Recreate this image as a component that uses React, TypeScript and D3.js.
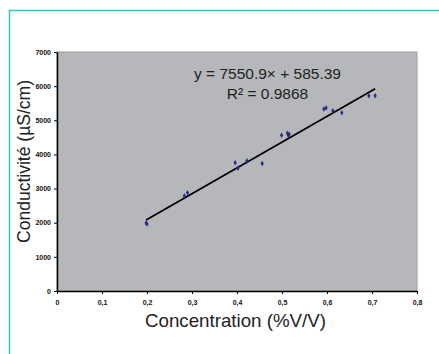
import React, { useRef, useEffect } from "react";
import * as d3 from "d3";

const concentration = [0.198, 0.2, 0.283, 0.29, 0.396, 0.402, 0.422, 0.456, 0.499, 0.512, 0.514, 0.516, 0.593, 0.598, 0.613, 0.633, 0.693, 0.707];
const conductivity = [1990, 1960, 2783, 2879, 3758, 3594, 3810, 3735, 4560, 4619, 4560, 4590, 5331, 5360, 5280, 5222, 5720, 5720];
const xTicks = [0, 0.1, 0.2, 0.3, 0.4, 0.5, 0.6, 0.7, 0.8];
const yTicks = [0, 1000, 2000, 3000, 4000, 5000, 6000, 7000];
const slope = 7550.9;
const intercept = 585.39;

const W = 439;
const H = 354;

const App: React.FC = () => {
  const ref = useRef<SVGSVGElement | null>(null);
  const plot = { left: 57, top: 52, right: 417, bottom: 291 };

  useEffect(() => {
    const svg = d3.select(ref.current);
    svg.selectAll("*").remove();

    // cadre turquoise
    svg
      .append("path")
      .attr("d", `M9.5,${H} L9.5,10.5 L${W},10.5`)
      .attr("fill", "none")
      .attr("stroke", "#3cc6b6")
      .attr("stroke-width", 1.5);

    const x = d3.scaleLinear().domain([0, 0.8]).range([plot.left, plot.right]);
    const y = d3.scaleLinear().domain([0, 7000]).range([plot.bottom, plot.top]);

    svg
      .append("rect")
      .attr("x", plot.left)
      .attr("y", plot.top)
      .attr("width", plot.right - plot.left)
      .attr("height", plot.bottom - plot.top)
      .attr("fill", "#b5b7ba")
      .attr("stroke", "#9a9c9f")
      .attr("stroke-width", 1);

    const tickFont = "Liberation Sans, Arial, sans-serif";

    const xAxis = svg
      .append("g")
      .attr("transform", `translate(0,${plot.bottom})`)
      .call(d3.axisBottom(x).tickValues(xTicks).tickSize(3).tickSizeOuter(0).tickFormat((d) => (d === 0 ? "0" : d3.format(".1f")(d as number).replace(".", ","))));
    xAxis.select(".domain").attr("stroke", "#000").attr("stroke-width", 1.5);
    xAxis.selectAll("line").attr("stroke", "#000");
    xAxis
      .selectAll("text")
      .attr("y", 9)
      .attr("font-family", tickFont)
      .attr("font-weight", "bold")
      .attr("font-size", 7)
      .attr("fill", "#111");

    const yAxis = svg
      .append("g")
      .attr("transform", `translate(${plot.left},0)`)
      .call(d3.axisLeft(y).tickValues(yTicks).tickSize(3).tickSizeOuter(0).tickFormat(d3.format("d")));
    yAxis.select(".domain").attr("stroke", "#000").attr("stroke-width", 1.5);
    yAxis.selectAll("line").attr("stroke", "#000");
    yAxis
      .selectAll("text")
      .attr("x", -6)
      .attr("font-family", tickFont)
      .attr("font-weight", "bold")
      .attr("font-size", 7)
      .attr("fill", "#111");

    // droite de régression
    const [xMin, xMax] = d3.extent(concentration) as [number, number];
    svg
      .append("line")
      .attr("x1", x(xMin))
      .attr("y1", y(slope * xMin + intercept))
      .attr("x2", x(xMax))
      .attr("y2", y(slope * xMax + intercept))
      .attr("stroke", "#000")
      .attr("stroke-width", 1.8);

    const pts = concentration.map((c, i) => ({ c, v: conductivity[i] }));
    svg
      .append("g")
      .selectAll("path")
      .data(pts)
      .join("path")
      .attr("transform", (d) => `translate(${x(d.c)},${y(d.v)})`)
      .attr("d", d3.symbol(d3.symbolDiamond, 9)())
      .attr("fill", "#2b2b8c");

    const labelFont = "Liberation Sans, Arial, sans-serif";
    svg
      .append("text")
      .attr("x", 267.5)
      .attr("y", 79)
      .attr("text-anchor", "middle")
      .attr("font-family", labelFont)
      .attr("font-size", 15.5)
      .attr("fill", "#222")
      .text("y = 7550.9× + 585.39");
    svg
      .append("text")
      .attr("x", 267.5)
      .attr("y", 99)
      .attr("text-anchor", "middle")
      .attr("font-family", labelFont)
      .attr("font-size", 15.5)
      .attr("fill", "#222")
      .text("R² = 0.9868");

    svg
      .append("text")
      .attr("x", 235.5)
      .attr("y", 327)
      .attr("text-anchor", "middle")
      .attr("font-family", labelFont)
      .attr("font-size", 18.5)
      .attr("textLength", 181)
      .attr("lengthAdjust", "spacingAndGlyphs")
      .attr("fill", "#222")
      .text("Concentration (%V/V)");

    svg
      .append("text")
      .attr("transform", `translate(30,161.5) rotate(-90)`)
      .attr("text-anchor", "middle")
      .attr("font-family", labelFont)
      .attr("font-size", 18)
      .attr("textLength", 163)
      .attr("lengthAdjust", "spacingAndGlyphs")
      .attr("fill", "#222")
      .text("Conductivité (µS/cm)");
  }, []);

  return (
    <svg
      ref={ref}
      width={W}
      height={H}
      style={{ position: "absolute", left: 0, top: 0, background: "#fff" }}
    ></svg>
  );
};

export default App;
